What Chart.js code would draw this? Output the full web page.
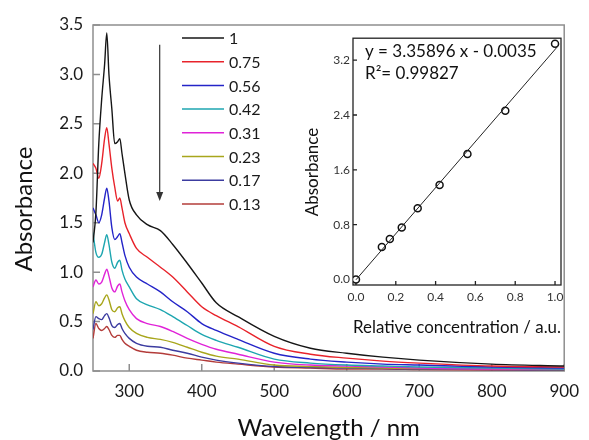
<!DOCTYPE html>
<html>
<head>
<meta charset="utf-8">
<script src="https://cdn.jsdelivr.net/npm/chart.js@4"></script>
<style>
  html, body { margin: 0; padding: 0; background: #fff; }
  #wrap { position: relative; width: 589px; height: 440px; }
  #main { position: absolute; left: 0; top: 0; }
  #inset { position: absolute; left: 296px; top: 28px; }
</style>
</head>
<body>
<div id="wrap">
  <canvas id="main" width="589" height="440"></canvas>
  <canvas id="inset" width="280" height="315"></canvas>
</div>
<script>
// spectra
const wavelength = [250, 254, 258, 262, 266, 269, 272, 276, 280, 284, 287, 290, 294, 300, 310, 325, 343, 360, 380, 400, 420, 450, 500, 550, 600, 650, 700, 800, 900];
const absC100 = [1.3, 1.6, 2.3, 2.75, 3.1, 3.42, 3.0, 2.65, 2.3, 2.32, 2.35, 2.2, 2.0, 1.73, 1.58, 1.48, 1.42, 1.28, 1.09, 0.89, 0.69, 0.55, 0.35, 0.23, 0.18, 0.14, 0.11, 0.07, 0.05];
const absC075 = [2.1, 2.05, 1.95, 2.1, 2.35, 2.46, 2.3, 2.05, 1.86, 1.72, 1.75, 1.65, 1.5, 1.39, 1.24, 1.15, 1.05, 0.95, 0.8, 0.65, 0.56, 0.45, 0.25, 0.17, 0.13, 0.1, 0.08, 0.05, 0.04];
const absC056 = [1.65, 1.58, 1.5, 1.58, 1.75, 1.85, 1.72, 1.45, 1.33, 1.36, 1.39, 1.3, 1.17, 1.05, 0.95, 0.88, 0.8, 0.7, 0.6, 0.48, 0.41, 0.32, 0.18, 0.12, 0.09, 0.07, 0.06, 0.04, 0.03];
const absC042 = [1.4, 1.2, 1.15, 1.18, 1.3, 1.38, 1.28, 1.1, 1.04, 1.1, 1.12, 1.02, 0.93, 0.85, 0.73, 0.67, 0.62, 0.55, 0.46, 0.37, 0.31, 0.24, 0.12, 0.08, 0.06, 0.05, 0.04, 0.03, 0.02];
const absC031 = [0.85, 0.92, 0.88, 0.9, 0.98, 1.03, 0.96, 0.84, 0.8, 0.86, 0.88, 0.8, 0.71, 0.62, 0.53, 0.48, 0.45, 0.4, 0.33, 0.27, 0.22, 0.17, 0.09, 0.06, 0.05, 0.04, 0.03, 0.02, 0.02];
const absC023 = [0.58, 0.7, 0.66, 0.68, 0.74, 0.77, 0.72, 0.62, 0.6, 0.64, 0.65, 0.58, 0.51, 0.44, 0.38, 0.34, 0.32, 0.29, 0.24, 0.19, 0.15, 0.12, 0.06, 0.045, 0.035, 0.03, 0.025, 0.02, 0.015];
const absC017 = [0.42, 0.55, 0.53, 0.52, 0.56, 0.58, 0.54, 0.46, 0.44, 0.47, 0.48, 0.43, 0.38, 0.33, 0.28, 0.25, 0.24, 0.21, 0.18, 0.14, 0.11, 0.08, 0.045, 0.035, 0.03, 0.025, 0.02, 0.015, 0.01];
const absC013 = [0.33, 0.48, 0.43, 0.41, 0.43, 0.45, 0.42, 0.36, 0.34, 0.36, 0.36, 0.32, 0.28, 0.25, 0.21, 0.19, 0.18, 0.16, 0.13, 0.11, 0.09, 0.07, 0.04, 0.03, 0.02, 0.02, 0.015, 0.01, 0.01];
const concLabels = ['1', '0.75', '0.56', '0.42', '0.31', '0.23', '0.17', '0.13'];
const xTickValues = [300, 400, 500, 600, 700, 800, 900];
const yTickValues = [0, 0.5, 1.0, 1.5, 2.0, 2.5, 3.0, 3.5];

// inset: absorbance at peak vs relative concentration
const relConc = [0, 0.13, 0.17, 0.23, 0.31, 0.42, 0.56, 0.75, 1.0];
const peakAbs = [0, 0.475, 0.59, 0.76, 1.04, 1.38, 1.83, 2.46, 3.44];
const fitX = [0, 1.02];
const fitY = [-0.0035, 3.4226];
const insetXTicks = [0, 0.2, 0.4, 0.6, 0.8, 1.0];
const insetYTicks = [0, 0.8, 1.6, 2.4, 3.2];

const colors = ['#161616', '#e8232b', '#2424c8', '#1ea6b0', '#e023d8', '#a8a61c', '#3c3ca0', '#b33c3a'];
const series = [absC100, absC075, absC056, absC042, absC031, absC023, absC017, absC013];

const FONT = 'Lato';

const mainDeco = {
  id: 'mainDeco',
  beforeDatasetsDraw(chart) {
    const { ctx, chartArea: a, scales: { x, y } } = chart;
    ctx.save();
    ctx.strokeStyle = '#8e8e8e';
    ctx.lineWidth = 1.5;
    ctx.strokeRect(a.left, a.top, a.right - a.left, a.bottom - a.top);
    ctx.beginPath();
    x.ticks.forEach(t => {
      const px = x.getPixelForValue(t.value);
      ctx.moveTo(px, a.bottom);
      ctx.lineTo(px, a.bottom - 7);
    });
    y.ticks.forEach(t => {
      const py = y.getPixelForValue(t.value);
      ctx.moveTo(a.left, py);
      ctx.lineTo(a.left + 7, py);
    });
    ctx.stroke();
    ctx.restore();
  },
  afterDraw(chart) {
    const { ctx, scales: { x, y } } = chart;
    ctx.save();
    // arrow showing dilution
    const ax = x.getPixelForValue(342);
    const y1 = y.getPixelForValue(3.3), y2 = y.getPixelForValue(1.72);
    ctx.strokeStyle = '#333';
    ctx.fillStyle = '#333';
    ctx.lineWidth = 1.2;
    ctx.beginPath();
    ctx.moveTo(ax, y1);
    ctx.lineTo(ax, y2 - 8);
    ctx.stroke();
    ctx.beginPath();
    ctx.moveTo(ax - 3.5, y2 - 9);
    ctx.lineTo(ax + 3.5, y2 - 9);
    ctx.lineTo(ax, y2);
    ctx.closePath();
    ctx.fill();

    // legend
    ctx.font = '16px ' + FONT;
    ctx.textBaseline = 'middle';
    ctx.textAlign = 'left';
    chart.data.datasets.forEach((ds, i) => {
      const yy = 38 + i * 23.7;
      ctx.strokeStyle = ds.borderColor;
      ctx.lineWidth = 1.5;
      ctx.beginPath();
      ctx.moveTo(182, yy);
      ctx.lineTo(224, yy);
      ctx.stroke();
      ctx.fillStyle = '#1a1a1a';
      ctx.fillText(ds.label, 229, yy + 1);
    });

    // y title
    ctx.translate(24.5, 209);
    ctx.rotate(-Math.PI / 2);
    ctx.font = '24px ' + FONT;
    ctx.textAlign = 'center';
    ctx.fillStyle = '#111';
    ctx.fillText('Absorbance', 0, 0);
    ctx.restore();
  }
};

new Chart(document.getElementById('main'), {
  type: 'line',
  data: {
    datasets: series.map((vals, i) => ({
      label: concLabels[i],
      data: wavelength.map((w, k) => ({ x: w, y: vals[k] })),
      borderColor: colors[i],
      backgroundColor: colors[i],
      borderWidth: 1.4,
      pointRadius: 0,
      cubicInterpolationMode: 'monotone'
    }))
  },
  options: {
    responsive: false,
    animation: false,
    layout: { padding: { left: 0, right: 15, top: 25, bottom: 0 } },
    plugins: { legend: { display: false }, tooltip: { enabled: false } },
    scales: {
      x: {
        type: 'linear',
        min: 250,
        max: 900,
        afterBuildTicks: s => { s.ticks = xTickValues.map(v => ({ value: v })); },
        afterFit: s => { s.height = 69; },
        grid: { display: false, drawTicks: false },
        border: { display: false },
        ticks: { padding: 10, maxRotation: 0, autoSkip: false, color: '#1a1a1a', font: { family: FONT, size: 17 } },
        title: { display: true, text: 'Wavelength / nm', color: '#111', padding: 0, font: { family: FONT, size: 24, lineHeight: 1 } }
      },
      y: {
        min: 0,
        max: 3.5,
        afterBuildTicks: s => { s.ticks = yTickValues.map(v => ({ value: v })); },
        afterFit: s => { s.width = 93; },
        grid: { display: false, drawTicks: false },
        border: { display: false },
        ticks: { padding: 10, color: '#1a1a1a', font: { family: FONT, size: 17 }, callback: v => v.toFixed(1) }
      }
    }
  },
  plugins: [mainDeco]
});

const insetDeco = {
  id: 'insetDeco',
  beforeDatasetsDraw(chart) {
    const { ctx, chartArea: a, scales: { x, y } } = chart;
    ctx.save();
    ctx.strokeStyle = '#222';
    ctx.lineWidth = 1.3;
    ctx.strokeRect(a.left, a.top, a.right - a.left, a.bottom - a.top);
    ctx.beginPath();
    x.ticks.forEach(t => {
      const px = x.getPixelForValue(t.value);
      ctx.moveTo(px, a.bottom);
      ctx.lineTo(px, a.bottom - 4);
    });
    y.ticks.forEach(t => {
      const py = y.getPixelForValue(t.value);
      ctx.moveTo(a.left, py);
      ctx.lineTo(a.left + 4, py);
    });
    ctx.stroke();
    ctx.restore();
  },
  afterDraw(chart) {
    const { ctx } = chart;
    ctx.save();
    ctx.fillStyle = '#111';
    ctx.font = '17px ' + FONT;
    ctx.textBaseline = 'middle';
    ctx.textAlign = 'left';
    ctx.fillText('y = 3.35896 x - 0.0035', 69, 24);
    ctx.fillText('R\u00B2= 0.99827', 69, 46);

    ctx.translate(17, 144);
    ctx.rotate(-Math.PI / 2);
    ctx.textAlign = 'center';
    ctx.fillText('Absorbance', 0, 0);
    ctx.restore();
  }
};

new Chart(document.getElementById('inset'), {
  type: 'scatter',
  data: {
    datasets: [
      {
        label: 'fit',
        data: fitX.map((v, k) => ({ x: v, y: fitY[k] })),
        showLine: true,
        borderColor: '#222',
        borderWidth: 1,
        pointRadius: 0
      },
      {
        label: 'data',
        data: relConc.map((v, k) => ({ x: v, y: peakAbs[k] })),
        showLine: false,
        pointStyle: 'circle',
        pointRadius: 3.5,
        borderWidth: 1.5,
        borderColor: '#111',
        backgroundColor: '#fff'
      }
    ]
  },
  options: {
    responsive: false,
    animation: false,
    layout: { padding: { left: 0, right: 15, top: 7, bottom: 0 } },
    plugins: { legend: { display: false }, tooltip: { enabled: false } },
    scales: {
      x: {
        type: 'linear',
        min: -0.015,
        max: 1.03,
        afterBuildTicks: s => { s.ticks = insetXTicks.map(v => ({ value: v })); },
        afterFit: s => { s.height = 58; },
        grid: { display: false, drawTicks: false },
        border: { display: false },
        ticks: { padding: 5, maxRotation: 0, autoSkip: false, color: '#333', font: { family: FONT, size: 12 }, callback: v => v.toFixed(1) },
        title: { display: true, text: 'Relative concentration / a.u.', color: '#111', padding: { bottom: 6.5 }, font: { family: FONT, size: 17, lineHeight: 1 } }
      },
      y: {
        min: -0.08,
        max: 3.52,
        afterBuildTicks: s => { s.ticks = insetYTicks.map(v => ({ value: v })); },
        afterFit: s => { s.width = 57; },
        grid: { display: false, drawTicks: false },
        border: { display: false },
        ticks: { padding: 3, color: '#333', font: { family: FONT, size: 12 }, callback: v => v.toFixed(1) }
      }
    }
  },
  plugins: [insetDeco]
});
</script>
</body>
</html>
